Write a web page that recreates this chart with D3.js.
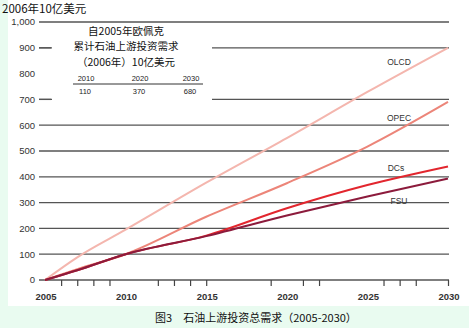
<!DOCTYPE html>
<html>
<head>
<meta charset="utf-8">
<script src="https://cdn.jsdelivr.net/npm/d3@7"></script>
<style>
  html, body { margin: 0; padding: 0; background: #fff; }
  svg { display: block; }
</style>
</head>
<body>
<div id="chart"></div>
<script>
// data
const years = [2005, 2007, 2010, 2015, 2020, 2025, 2030];
const oecd = [0, 88, 195, 377, 550, 729, 900];
const opec = [0, 42, 100, 245, 375, 517, 690];
const dcs  = [0, 38, 100, 172, 278, 368, 440];
const fsu  = [0, 38, 100, 170, 250, 324, 393];
const seriesNames = ["OLCD", "OPEC", "DCs", "FSU"];
const yTicks = [0, 100, 200, 300, 400, 500, 600, 700, 800, 900, 1000];
const gridValues = [0, 100, 200, 300, 400, 500, 600, 700, 900, 1000];
const xLabels = [2005, 2010, 2015, 2020, 2025, 2030];
const xTickYears = [2006, 2007, 2008, 2009, 2012, 2013, 2014, 2015, 2019, 2021, 2022, 2026, 2027, 2028, 2030];
const boxTitle = ["自2005年欧佩克", "累计石油上游投资需求", "（2006年）10亿美元"];
const boxYears = ["2010", "2020", "2030"];
const boxValues = ["110", "370", "680"];

const W = 469, H = 328;
const svg = d3.select("#chart").append("svg")
  .attr("width", W).attr("height", H);

// mint frame
svg.append("rect").attr("width", W).attr("height", H).attr("fill", "#e9fbf0");
svg.append("rect").attr("x", 8).attr("y", 0).attr("width", W - 8).attr("height", 306).attr("fill", "#fff");

const x = d3.scaleLinear().domain([2005, 2030]).range([45, 448]);
const y = d3.scaleLinear().domain([0, 1000]).range([280, 22]);

const font = "'Liberation Sans', 'Noto Sans', sans-serif";
const cjk = "'Noto Sans CJK SC', sans-serif";

// gridlines
svg.append("g").selectAll("line")
  .data(gridValues)
  .enter().append("line")
  .attr("x1", 39).attr("x2", 449)
  .attr("y1", d => y(d)).attr("y2", d => y(d))
  .attr("stroke", "#555").attr("stroke-width", 1.3);

// y tick labels
svg.append("g").selectAll("text")
  .data(yTicks)
  .enter().append("text")
  .attr("x", 35).attr("y", d => y(d))
  .attr("dy", "0.35em")
  .attr("text-anchor", "end")
  .attr("font-family", font).attr("font-size", 9.5)
  .attr("fill", "#333")
  .text(d => d3.format(",")(d));

// x ticks
const xAxis = svg.append("g")
  .attr("transform", `translate(0,${y(0)})`)
  .call(d3.axisBottom(x).tickValues(xTickYears).tickSize(6).tickFormat(""));
xAxis.select(".domain").remove();
xAxis.selectAll("line").attr("stroke", "#444").attr("stroke-width", 1.2);

svg.append("g").selectAll("text")
  .data(xLabels)
  .enter().append("text")
  .attr("x", d => x(d) + 1).attr("y", 300)
  .attr("text-anchor", "middle")
  .attr("font-family", font).attr("font-size", 9.5).attr("font-weight", "bold")
  .attr("fill", "#333")
  .text(d => d);

// lines
const color = d3.scaleOrdinal()
  .domain(seriesNames)
  .range(["#f4b6ae", "#ec8579", "#e2262e", "#8c1b3c"]);
const seriesData = [oecd, opec, dcs, fsu];
const line = d3.line()
  .x((d, i) => x(years[i]))
  .y(d => y(d))
  .curve(d3.curveMonotoneX);

svg.append("g").selectAll("path")
  .data(seriesNames)
  .enter().append("path")
  .attr("d", (d, i) => line(seriesData[i]))
  .attr("fill", "none")
  .attr("stroke", d => color(d))
  .attr("stroke-width", 2);

// series labels
const labelY = { "OLCD": 62, "OPEC": 118, "DCs": 168, "FSU": 201 };
svg.append("g").selectAll("text")
  .data(seriesNames)
  .enter().append("text")
  .attr("x", d => d === "DCs" ? 396 : 399)
  .attr("y", d => labelY[d])
  .attr("dy", "0.35em")
  .attr("text-anchor", "middle")
  .attr("font-family", font).attr("font-size", 8.5)
  .attr("fill", "#333")
  .text(d => d);

// inset box covering gridlines
svg.append("rect")
  .attr("x", 52).attr("y", 26).attr("width", 160).attr("height", 79)
  .attr("fill", "#fff");

svg.append("g").selectAll("text")
  .data(boxTitle)
  .enter().append("text")
  .attr("x", 126).attr("y", (d, i) => 31 + i * 15.5)
  .attr("dy", "0.35em")
  .attr("text-anchor", "middle")
  .attr("font-family", cjk).attr("font-size", 10.5)
  .attr("fill", "#111")
  .text(d => d);

const boxX = [86, 140, 191];
svg.append("g").selectAll("text")
  .data(boxYears)
  .enter().append("text")
  .attr("x", (d, i) => boxX[i]).attr("y", 78)
  .attr("dy", "0.35em")
  .attr("text-anchor", "middle")
  .attr("font-family", font).attr("font-size", 7.5)
  .attr("fill", "#222")
  .text(d => d);
svg.append("line")
  .attr("x1", 73).attr("x2", 203).attr("y1", 84).attr("y2", 84)
  .attr("stroke", "#333").attr("stroke-width", 1);
svg.append("g").selectAll("text")
  .data(boxValues)
  .enter().append("text")
  .attr("x", (d, i) => boxX[i] - 1).attr("y", 91)
  .attr("dy", "0.35em")
  .attr("text-anchor", "middle")
  .attr("font-family", font).attr("font-size", 7.5)
  .attr("fill", "#222")
  .text(d => d);

// short dashes left of box for 900 / 700
svg.append("g").selectAll("line")
  .data([900, 700])
  .enter().append("line")
  .attr("x1", 39).attr("x2", 51)
  .attr("y1", d => y(d)).attr("y2", d => y(d))
  .attr("stroke", "#555").attr("stroke-width", 1.3);

// y axis title
svg.append("text")
  .attr("x", 2).attr("y", 9)
  .attr("dy", "0.35em")
  .attr("font-family", cjk).attr("font-size", 11.5)
  .attr("fill", "#111")
  .text("2006年10亿美元");

// caption
svg.append("text")
  .attr("x", 256).attr("y", 318)
  .attr("dy", "0.35em")
  .attr("text-anchor", "middle")
  .attr("font-family", cjk).attr("font-size", 11)
  .attr("fill", "#111")
  .text("图3　石油上游投资总需求（2005-2030）");
</script>
</body>
</html>
